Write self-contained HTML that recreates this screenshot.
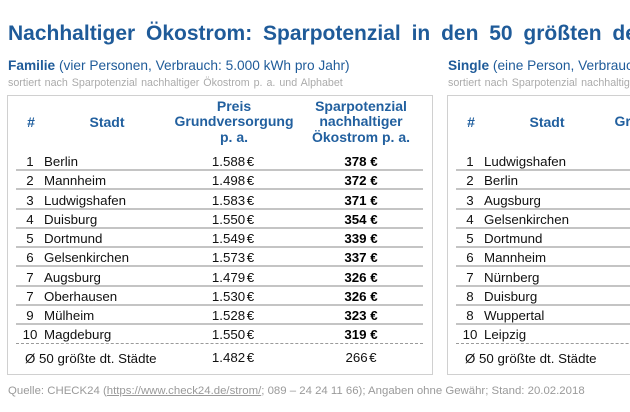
<!DOCTYPE html>
<html><head><meta charset="utf-8">
<style>
html,body{margin:0;padding:0;background:#fff;}
body{width:630px;height:412px;position:relative;overflow:hidden;font-family:"Liberation Sans",Arial,sans-serif;}
.a{position:absolute;white-space:nowrap;}
.title{left:8px;top:22.4px;font-size:21px;font-weight:bold;line-height:24px;color:#1f5b99;word-spacing:5px;}
.sub{top:58.2px;font-size:13.7px;line-height:16px;color:#1f5b99;}
.sub b{font-weight:bold;}
.gray{top:77.2px;font-size:10.7px;line-height:12px;color:#ababab;word-spacing:1px;}
.box{position:absolute;top:95px;height:278px;border:1px solid #d0d0d0;}
.hd{position:absolute;font-size:14px;font-weight:bold;color:#22609f;line-height:15.3px;text-align:center;white-space:nowrap;}
.ln{position:absolute;height:2px;background:#c4c4c4;}
.dash{position:absolute;height:0;border-top:1px dashed #9a9a9a;}
.t{position:absolute;font-size:13.3px;line-height:19px;color:#111;white-space:nowrap;}
.c{text-align:center;}
.bd{font-weight:bold;color:#000;}
.foot{left:8px;top:385px;font-size:11.4px;line-height:13px;color:#9a9a9a;}
.foot u{text-decoration:underline;}
</style></head>
<body>
<div class="a title">Nachhaltiger Ökostrom: Sparpotenzial in den 50 größten deutschen Städten</div>

<div class="a sub" style="left:8px;"><b>Familie</b> (vier Personen, Verbrauch: 5.000 kWh pro Jahr)</div>
<div class="a gray" style="left:8px;">sortiert nach Sparpotenzial nachhaltiger Ökostrom p. a. und Alphabet</div>

<div class="a sub" style="left:448px;"><b>Single</b> (eine Person, Verbrauch: 2.000 kWh pro Jahr)</div>
<div class="a gray" style="left:448px;">sortiert nach Sparpotenzial nachhaltiger Ökostrom p. a. und Alphabet</div>

<!-- LEFT PANEL -->
<div class="box" style="left:7px;width:424px;"></div>
<div class="hd" style="left:16px;width:30px;top:114.5px;">#</div>
<div class="hd" style="left:67px;width:80px;top:114.5px;">Stadt</div>
<div class="hd" style="left:164px;width:140px;top:99.2px;">Preis<br>Grundversorgung<br>p. a.</div>
<div class="hd" style="left:296px;width:130px;top:99.2px;">Sparpotenzial<br>nachhaltiger<br>Ökostrom p. a.</div>

<div class="ln" style="left:16px;width:407px;top:169px;"></div>
<div class="ln" style="left:16px;width:407px;top:188.25px;"></div>
<div class="ln" style="left:16px;width:407px;top:207.5px;"></div>
<div class="ln" style="left:16px;width:407px;top:226.75px;"></div>
<div class="ln" style="left:16px;width:407px;top:246px;"></div>
<div class="ln" style="left:16px;width:407px;top:265.25px;"></div>
<div class="ln" style="left:16px;width:407px;top:284.5px;"></div>
<div class="ln" style="left:16px;width:407px;top:303.75px;"></div>
<div class="ln" style="left:16px;width:407px;top:323px;"></div>
<div class="dash" style="left:16px;width:407px;top:343px;"></div>

<div class="t c" style="left:18px;width:24px;top:152px;">1</div>
<div class="t" style="left:44px;top:152px;">Berlin</div>
<div class="t c" style="left:183px;width:100px;top:152px;">1.588<span style="margin-left:1.5px"></span>€</div>
<div class="t c bd" style="left:311px;width:100px;top:152px;">378 €</div>

<div class="t c" style="left:18px;width:24px;top:171.25px;">2</div>
<div class="t" style="left:44px;top:171.25px;">Mannheim</div>
<div class="t c" style="left:183px;width:100px;top:171.25px;">1.498<span style="margin-left:1.5px"></span>€</div>
<div class="t c bd" style="left:311px;width:100px;top:171.25px;">372 €</div>

<div class="t c" style="left:18px;width:24px;top:190.5px;">3</div>
<div class="t" style="left:44px;top:190.5px;">Ludwigshafen</div>
<div class="t c" style="left:183px;width:100px;top:190.5px;">1.583<span style="margin-left:1.5px"></span>€</div>
<div class="t c bd" style="left:311px;width:100px;top:190.5px;">371 €</div>

<div class="t c" style="left:18px;width:24px;top:209.75px;">4</div>
<div class="t" style="left:44px;top:209.75px;">Duisburg</div>
<div class="t c" style="left:183px;width:100px;top:209.75px;">1.550<span style="margin-left:1.5px"></span>€</div>
<div class="t c bd" style="left:311px;width:100px;top:209.75px;">354 €</div>

<div class="t c" style="left:18px;width:24px;top:229px;">5</div>
<div class="t" style="left:44px;top:229px;">Dortmund</div>
<div class="t c" style="left:183px;width:100px;top:229px;">1.549<span style="margin-left:1.5px"></span>€</div>
<div class="t c bd" style="left:311px;width:100px;top:229px;">339 €</div>

<div class="t c" style="left:18px;width:24px;top:248.25px;">6</div>
<div class="t" style="left:44px;top:248.25px;">Gelsenkirchen</div>
<div class="t c" style="left:183px;width:100px;top:248.25px;">1.573<span style="margin-left:1.5px"></span>€</div>
<div class="t c bd" style="left:311px;width:100px;top:248.25px;">337 €</div>

<div class="t c" style="left:18px;width:24px;top:267.5px;">7</div>
<div class="t" style="left:44px;top:267.5px;">Augsburg</div>
<div class="t c" style="left:183px;width:100px;top:267.5px;">1.479<span style="margin-left:1.5px"></span>€</div>
<div class="t c bd" style="left:311px;width:100px;top:267.5px;">326 €</div>

<div class="t c" style="left:18px;width:24px;top:286.75px;">7</div>
<div class="t" style="left:44px;top:286.75px;">Oberhausen</div>
<div class="t c" style="left:183px;width:100px;top:286.75px;">1.530<span style="margin-left:1.5px"></span>€</div>
<div class="t c bd" style="left:311px;width:100px;top:286.75px;">326 €</div>

<div class="t c" style="left:18px;width:24px;top:306px;">9</div>
<div class="t" style="left:44px;top:306px;">Mülheim</div>
<div class="t c" style="left:183px;width:100px;top:306px;">1.528<span style="margin-left:1.5px"></span>€</div>
<div class="t c bd" style="left:311px;width:100px;top:306px;">323 €</div>

<div class="t c" style="left:18px;width:24px;top:325.25px;">10</div>
<div class="t" style="left:44px;top:325.25px;">Magdeburg</div>
<div class="t c" style="left:183px;width:100px;top:325.25px;">1.550<span style="margin-left:1.5px"></span>€</div>
<div class="t c bd" style="left:311px;width:100px;top:325.25px;">319 €</div>

<div class="t" style="left:25px;top:348.8px;">Ø 50 größte dt. Städte</div>
<div class="t c" style="left:183px;width:100px;top:347.8px;">1.482<span style="margin-left:1.5px"></span>€</div>
<div class="t c" style="left:311px;width:100px;top:347.8px;">266<span style="margin-left:1.5px"></span>€</div>

<!-- RIGHT PANEL -->
<div class="box" style="left:447px;width:424px;"></div>
<div class="hd" style="left:456px;width:30px;top:114.5px;">#</div>
<div class="hd" style="left:507px;width:80px;top:114.5px;">Stadt</div>
<div class="hd" style="left:604px;width:140px;top:99.2px;">Preis<br>Grundversorgung<br>p. a.</div>

<div class="ln" style="left:456px;width:407px;top:169px;"></div>
<div class="ln" style="left:456px;width:407px;top:188.25px;"></div>
<div class="ln" style="left:456px;width:407px;top:207.5px;"></div>
<div class="ln" style="left:456px;width:407px;top:226.75px;"></div>
<div class="ln" style="left:456px;width:407px;top:246px;"></div>
<div class="ln" style="left:456px;width:407px;top:265.25px;"></div>
<div class="ln" style="left:456px;width:407px;top:284.5px;"></div>
<div class="ln" style="left:456px;width:407px;top:303.75px;"></div>
<div class="ln" style="left:456px;width:407px;top:323px;"></div>
<div class="dash" style="left:456px;width:407px;top:343px;"></div>

<div class="t c" style="left:458px;width:24px;top:152px;">1</div>
<div class="t" style="left:484px;top:152px;">Ludwigshafen</div>
<div class="t c" style="left:458px;width:24px;top:171.25px;">2</div>
<div class="t" style="left:484px;top:171.25px;">Berlin</div>
<div class="t c" style="left:458px;width:24px;top:190.5px;">3</div>
<div class="t" style="left:484px;top:190.5px;">Augsburg</div>
<div class="t c" style="left:458px;width:24px;top:209.75px;">4</div>
<div class="t" style="left:484px;top:209.75px;">Gelsenkirchen</div>
<div class="t c" style="left:458px;width:24px;top:229px;">5</div>
<div class="t" style="left:484px;top:229px;">Dortmund</div>
<div class="t c" style="left:458px;width:24px;top:248.25px;">6</div>
<div class="t" style="left:484px;top:248.25px;">Mannheim</div>
<div class="t c" style="left:458px;width:24px;top:267.5px;">7</div>
<div class="t" style="left:484px;top:267.5px;">Nürnberg</div>
<div class="t c" style="left:458px;width:24px;top:286.75px;">8</div>
<div class="t" style="left:484px;top:286.75px;">Duisburg</div>
<div class="t c" style="left:458px;width:24px;top:306px;">8</div>
<div class="t" style="left:484px;top:306px;">Wuppertal</div>
<div class="t c" style="left:458px;width:24px;top:325.25px;">10</div>
<div class="t" style="left:484px;top:325.25px;">Leipzig</div>
<div class="t" style="left:465px;top:348.8px;">Ø 50 größte dt. Städte</div>

<div class="a foot">Quelle: CHECK24 (<u>https://www.check24.de/strom/</u>; 089 – 24 24 11 66); Angaben ohne Gewähr; Stand: 20.02.2018</div>
</body></html>
